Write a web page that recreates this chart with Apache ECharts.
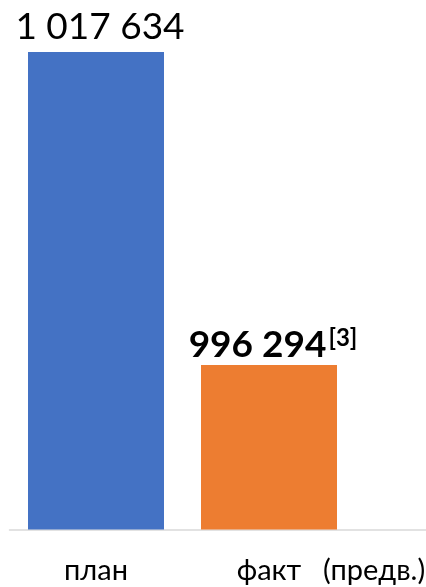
<!DOCTYPE html>
<html><head><meta charset="utf-8">
<script src="https://cdn.jsdelivr.net/npm/echarts@6/dist/echarts.min.js"></script>
<style>html,body{margin:0;padding:0;background:#fff}#c{width:426px;height:587px}</style>
</head><body><div id="c"></div>
<script>
const categories = ['план', 'факт', ''];
const values = [1017634, 996294, null];
const valueLabels = ['1 017 634', '996 294', ''];
const footnote = '[3]';
const extraLabel = '(предв.)';
const colors = ['#4472C4', '#ED7D31'];

const chart = echarts.init(document.getElementById('c'), null, {renderer: 'canvas'});
const FONT = 'Lato, "Open Sans", sans-serif';
chart.setOption({
  animation: false,
  grid: {left: 9.5, width: 519, top: 17.3, bottom: 57.5, containLabel: false, outerBoundsMode: 'none'},
  xAxis: {
    type: 'category', data: categories,
    axisLine: {show: true, lineStyle: {color: '#d9d9d9', width: 1.5}},
    axisTick: {show: false},
    axisLabel: {fontFamily: FONT, fontSize: 29, color: '#000', margin: 27, interval: 0}
  },
  yAxis: {type: 'value', min: 985080, max: 1020000, show: false, splitLine: {show: false}},
  series: [{
    type: 'bar', barWidth: 136,
    data: values.map((v, i) => ({
      value: v,
      itemStyle: {color: colors[i]},
      label: {
        show: v != null, position: 'top', distance: i === 1 ? 1 : 6,
        offset: [4, 0],
        formatter: i === 1 ? '{b|' + valueLabels[i] + '}{s|' + footnote + '}' : valueLabels[i],
        fontFamily: FONT, fontSize: 37, color: '#000',
        rich: {
          b: {fontFamily: FONT, fontSize: 37, fontWeight: 'bold', color: '#000'},
          s: {fontFamily: FONT, fontSize: 24, fontWeight: 'bold', color: '#000', verticalAlign: 'top', padding: [0, 0, 14, 2]}
        }
      }
    }))
  }],
  graphic: [{
    type: 'text', left: 323, top: 556,
    style: {text: extraLabel, font: '29px ' + FONT, fill: '#000'}
  }]
});
</script></body></html>
